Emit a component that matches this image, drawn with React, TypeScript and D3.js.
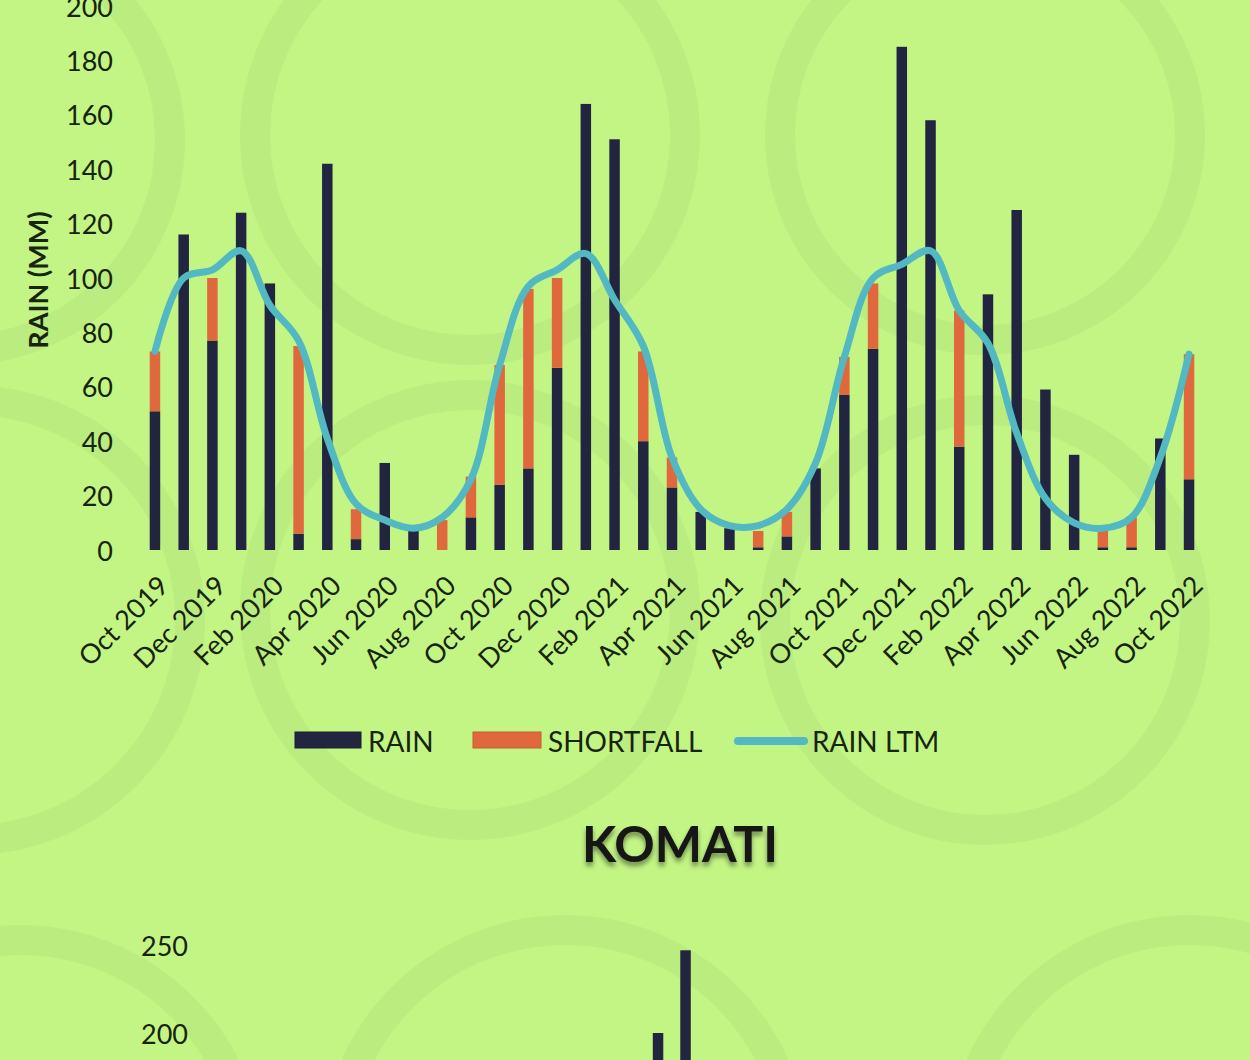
import React from 'react';
import * as d3 from 'd3';

const months = [
  'Oct 2019','Nov 2019','Dec 2019','Jan 2020','Feb 2020','Mar 2020','Apr 2020','May 2020','Jun 2020','Jul 2020','Aug 2020','Sep 2020',
  'Oct 2020','Nov 2020','Dec 2020','Jan 2021','Feb 2021','Mar 2021','Apr 2021','May 2021','Jun 2021','Jul 2021','Aug 2021','Sep 2021',
  'Oct 2021','Nov 2021','Dec 2021','Jan 2022','Feb 2022','Mar 2022','Apr 2022','May 2022','Jun 2022','Jul 2022','Aug 2022','Sep 2022',
  'Oct 2022'
];
const rain = [51,116,77,124,98,6,142,4,32,7,0,12,24,30,67,164,151,40,23,14,8,1,5,30,57,74,185,158,38,94,125,59,35,1,1,41,26];
const shortfall = [22,0,23,0,0,69,0,11,0,0,11,15,44,66,33,0,0,33,11,0,0,6,9,0,14,24,0,0,50,0,0,0,0,7,11,0,46];
const rainLtm = [73,100,103,110,90,77,41,17,11,8,12,26,68,97,103,109,92,75,34,15,9,9,15,32,71,100,105,110,88,76,43,19,10,8,12,34,72];
const yTicks = [0,20,40,60,80,100,120,140,160,180,200];

const komatiRain: (number | null)[] = [null,null,null,null,null,null,null,null,null,null,null,null,null,null,null,200,247,null,null,null,null,null,null,null,null,null,null,null,null,null,null,null,null,null,null,null,null];
const komatiTicks = [200,250];

const legendItems = ['RAIN','SHORTFALL','RAIN LTM'];

const BG = '#c3f585';
const DARK = '#22253f';
const ORANGE = '#e0683d';
const TEAL = '#52b8c2';
const TXT = '#17240e';
const FONT = 'Lato, "Open Sans", sans-serif';

export default function App() {
  const W = 1250, H = 1060;
  const x = d3.scaleBand<string>().domain(months).range([140.6, 1203.4]).padding(0);
  const bw = x.bandwidth();
  const barW = 10.5;
  const y = d3.scaleLinear().domain([0, 200]).range([550, 6]);

  const rows = months.map((m, i) => ({ m, rain: rain[i], shortfall: shortfall[i] }));
  const series = d3.stack<any>().keys(['rain', 'shortfall'])(rows);
  const colors = [DARK, ORANGE];

  const line = d3.line<number>()
    .x((_, i) => (x(months[i]) as number) + bw / 2)
    .y(d => y(d))
    .curve(d3.curveCatmullRom.alpha(0.5));

  const kx = d3.scaleBand<string>().domain(months).range([232, 1249]).padding(0);
  const ky = d3.scaleLinear().domain([0, 250]).range([1385, 945]);

  const rings = [
    [-40, 140, 210], [470, 135, 215], [985, 135, 205],
    [-30, 620, 220], [470, 610, 215], [985, 620, 210],
    [20, 1170, 230], [565, 1160, 230], [1190, 1160, 230],
  ];

  return (
    <svg width={W} height={H} style={{ position: 'absolute', left: 0, top: 0, background: BG }} fontFamily={FONT}>
      <defs>
        <filter id="tshadow" x="-20%" y="-40%" width="140%" height="180%">
          <feDropShadow dx="0" dy="4" stdDeviation="2.5" floodColor="#000" floodOpacity="0.45" />
        </filter>
      </defs>
      <rect x={0} y={0} width={W} height={H} fill={BG} />
      <g opacity={0.45}>
        {rings.map(([cx, cy, r], i) => (
          <circle key={i} cx={cx} cy={cy} r={r} fill="none" stroke="#b0e27a" strokeWidth={30} />
        ))}
      </g>

      {/* y axis labels */}
      {yTicks.map(t => (
        <text key={t} x={113} y={y(t)} textAnchor="end" dominantBaseline="central" fontSize={27} fill={TXT}>{t}</text>
      ))}
      <text transform={`translate(37,280) rotate(-90)`} textAnchor="middle" dominantBaseline="central" fontSize={27} fontWeight="bold" fill={TXT}>RAIN (MM)</text>

      {/* bars */}
      {series.map((s, si) => (
        <g key={si} fill={colors[si]}>
          {s.map((d, i) => {
            const h = y(d[0]) - y(d[1]);
            if (h <= 0) return null;
            return <rect key={i} x={(x(months[i]) as number) + bw / 2 - barW / 2} y={y(d[1])} width={barW} height={h} />;
          })}
        </g>
      ))}

      {/* LTM line */}
      <path d={line(rainLtm) as string} fill="none" stroke={TEAL} strokeWidth={7} strokeLinejoin="round" strokeLinecap="round" />

      {/* x labels */}
      {months.map((m, i) => i % 2 === 0 ? (
        <text key={m} transform={`translate(${(x(m) as number) + bw / 2 + 8},${580}) rotate(-45)`} textAnchor="end" dominantBaseline="central" fontSize={27} fill={TXT}>{m}</text>
      ) : null)}

      {/* legend */}
      <g>
        <rect x={295} y={732} width={66} height={16} fill={DARK} stroke="#1a1c30" strokeWidth={1} />
        <text x={368} y={741} dominantBaseline="central" fontSize={28} fill={TXT}>{legendItems[0]}</text>
        <rect x={473} y={732} width={68} height={16} fill={ORANGE} stroke="#c85a33" strokeWidth={1} />
        <text x={548} y={741} dominantBaseline="central" fontSize={28} fill={TXT}>{legendItems[1]}</text>
        <line x1={738} x2={804} y1={741} y2={741} stroke={TEAL} strokeWidth={8} strokeLinecap="round" />
        <text x={812} y={741} dominantBaseline="central" fontSize={28} fill={TXT}>{legendItems[2]}</text>
      </g>

      {/* second chart */}
      <text x={680} y={843} textAnchor="middle" dominantBaseline="central" fontSize={50} fontWeight="bold" fill="#141414" filter="url(#tshadow)">KOMATI</text>
      {komatiTicks.map(t => (
        <text key={t} x={188} y={ky(t)} textAnchor="end" dominantBaseline="central" fontSize={27} fill={TXT}>{t}</text>
      ))}
      {komatiRain.map((v, i) => v == null ? null : (
        <rect key={i} x={(kx(months[i]) as number) + kx.bandwidth() / 2 - barW / 2} y={ky(v)} width={barW} height={ky(0) - ky(v)} fill={DARK} />
      ))}
    </svg>
  );
}
